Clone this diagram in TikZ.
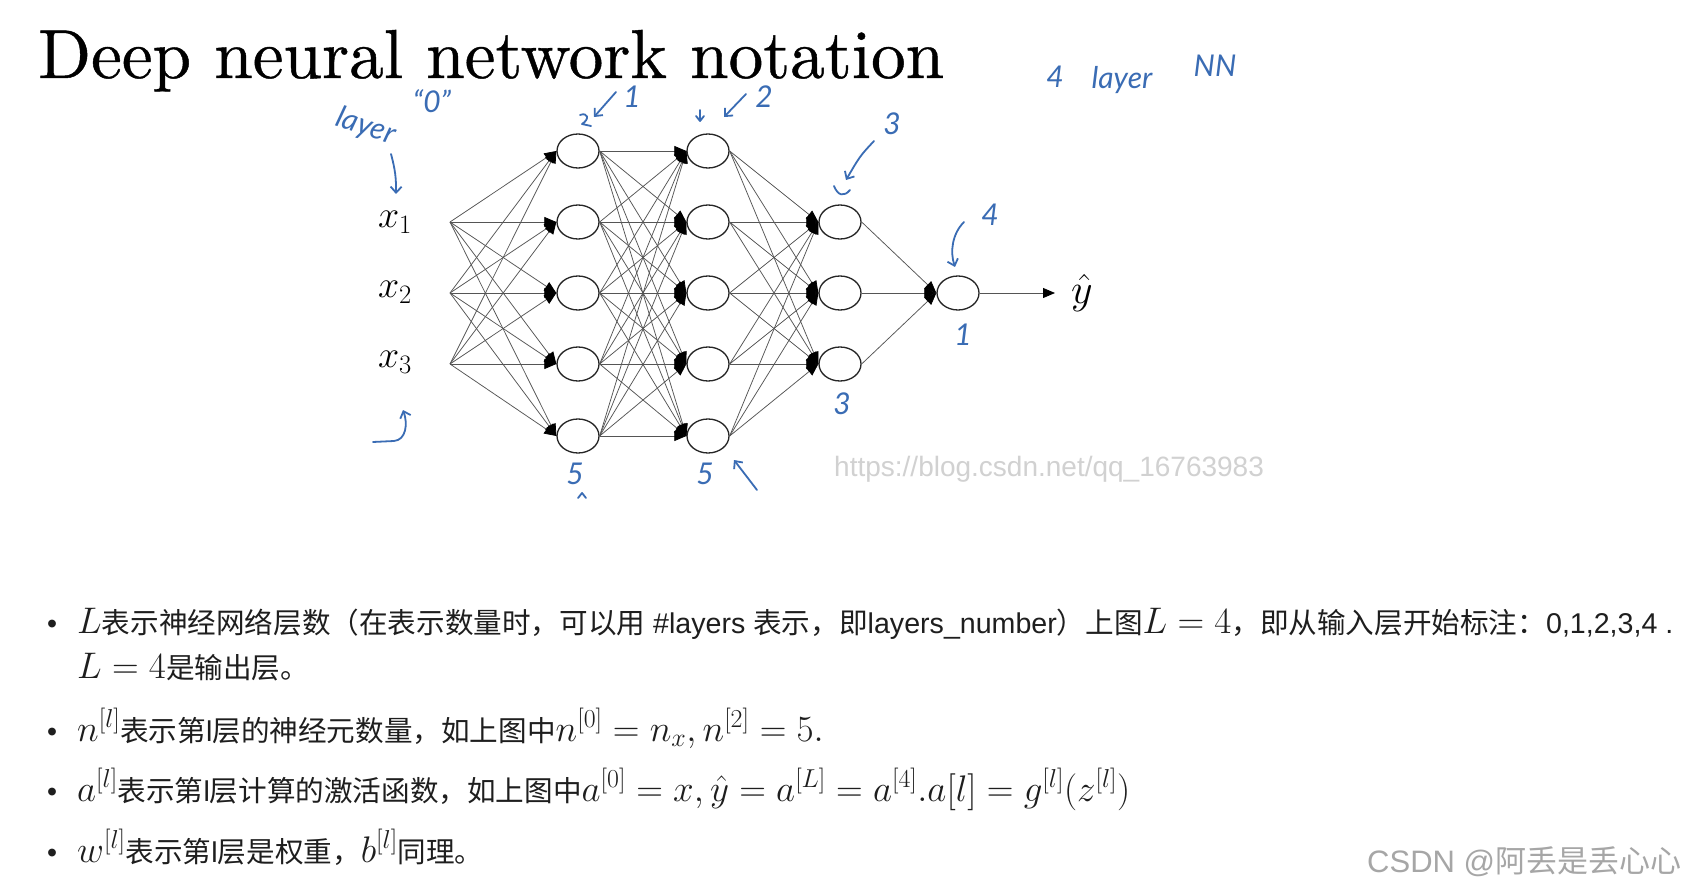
\RequirePackage{fix-cm}
\documentclass[tikz,border=0pt]{standalone}
\usepackage{fontspec}
\usepackage{graphicx}
\usetikzlibrary{shapes.geometric,arrows.meta}
\newfontfamily\cjk{Noto Sans CJK SC}
\newfontfamily\lat{Liberation Sans}
\newfontfamily\hand{Lato}
\newfontfamily\ttl{lmroman10-regular.otf}[FakeBold=0.6]
\definecolor{handblue}{RGB}{58,108,180}
\definecolor{edgegray}{RGB}{85,85,85}
\definecolor{txt}{RGB}{30,30,30}
\newcommand\zh[1]{{\cjk #1}}
\newcommand\mth[1]{{\fontsize{37}{37}\selectfont$#1$}}
\tikzset{
  neuron/.style={ellipse, draw=black!85, line width=1.3pt, minimum width=42pt, minimum height=34pt, inner sep=0pt, fill=white},
  conn/.style={draw=edgegray, line width=0.75pt, -{Triangle[length=12pt,width=10pt,color=black,fill=black]}},
  hw/.style={text=handblue, font=\hand\itshape\fontsize{30}{30}\selectfont, inner sep=0pt},
  harrow/.style={draw=handblue, line width=1.8pt, line cap=round, line join=round, -{Straight Barb[length=6pt,width=11pt]}},
  hstroke/.style={draw=handblue, line width=1.8pt, line cap=round, line join=round},
  body/.style={anchor=base west, inner sep=0pt, text=txt, font=\lat\fontsize{28.6}{30}\selectfont},
  xlab/.style={inner sep=0pt, font=\fontsize{38}{38}\selectfont}
}
\begin{document}
\begin{tikzpicture}[x=1pt,y=-1pt]
\useasboundingbox[fill=white] (0,0) rectangle (1688,890);

% title
\node[anchor=base west, inner sep=0pt] (title) at (38,78) {\resizebox{906pt}{!}{\raisebox{0pt}[\height][0pt]{\ttl\fontsize{68}{70}\selectfont Deep neural network notation}}};

% neurons
\foreach \i/\y in {1/151,2/222,3/293,4/364,5/436} {
  \node[neuron] (a\i) at (578,\y) {};
  \node[neuron] (b\i) at (708,\y) {};
}
\foreach \i/\y in {1/222,2/293,3/364} {
  \node[neuron] (c\i) at (840,\y) {};
  \coordinate (in\i) at (450,\y);
}
\node[neuron] (d1) at (958,293) {};
\coordinate (yend) at (1055,293);

% edges
\foreach \i in {1,2,3} \foreach \j in {1,...,5} \draw[conn] (in\i) -- (a\j.west);
\foreach \i in {1,...,5} \foreach \j in {1,...,5} \draw[conn] (a\i.east) -- (b\j.west);
\foreach \i in {1,...,5} \foreach \j in {1,2,3} \draw[conn] (b\i.east) -- (c\j.west);
\foreach \i in {1,2,3} \draw[conn] (c\i.east) -- (d1.west);
\draw[conn] (d1.east) -- (yend);

% labels
\node[xlab] (x1) at (395,222) {$x_1$};
\node[xlab] (x2) at (395,292) {$x_2$};
\node[xlab] (x3) at (395,362) {$x_3$};
\node[xlab, anchor=west, font=\fontsize{42}{42}\selectfont] (yhat) at (1071,293) {$\hat{y}$};

% handwriting
\node[hw, rotate=-18] (lay0) at (366,127) {layer};
\node[hw] (q0) at (432,101) {“0”};
\coordinate (a0s) at (391,154); \coordinate (a0e) at (396,194);
\draw[harrow] (a0s) to[bend left=8] (a0e);

\node[hw] (l1) at (632,97) {1};
\coordinate (p1s) at (616,92); \coordinate (p1e) at (594,117);
\draw[harrow] (p1s) -- (p1e);
\draw[hstroke] (580,115) .. controls (588,112) and (590,119) .. (582,124) -- (591,126);

\node[hw] (l2) at (764,97) {2};
\coordinate (p2s) at (746,94); \coordinate (p2e) at (724,117);
\draw[harrow] (p2s) -- (p2e);
\draw[hstroke] (700,110) -- (700,120);
\draw[hstroke] (696,116) -- (700,121) -- (704,116);

\node[hw] (l3) at (892,124) {3};
\coordinate (p3s) at (874,141); \coordinate (p3e) at (846,180);
\draw[harrow] (p3s) .. controls (860,156) .. (p3e);
\draw[hstroke] (834,186) .. controls (838,196) and (844,197) .. (850,190);

\node[hw] (l4) at (990,215) {4};
\coordinate (p4s) at (964,222); \coordinate (p4e) at (955,267);
\draw[harrow] (p4s) .. controls (952,234) and (950,252) .. (p4e);
\node[hw] (n4) at (963,335) {1};

\node[hw] (n3) at (842,404) {3};
\node[hw] (n1) at (575,474) {5};
\draw[hstroke] (578,498) -- (582,493) -- (586,498);
\node[hw] (n2) at (705,474) {5};
\coordinate (p5s) at (757,490); \coordinate (p5e) at (734,460);
\draw[harrow] (p5s) -- (p5e);
\coordinate (hk1) at (373,442); \coordinate (hk2) at (403,410);
\draw[harrow] (hk1) -- (394,441) .. controls (406,440) and (408,424) .. (hk2);

\node[hw] (h4) at (1055,77) {4};
\node[hw] (hl) at (1122,80) {layer};
\node[hw] (hnn) at (1215,66) {NN};

% watermark url
\node[anchor=base west, inner sep=0pt, text=black!18, font=\lat\fontsize{28}{28}\selectfont] (url) at (834,476) {https://blog.csdn.net/qq\_16763983};

% bullets
\foreach \n/\y in {1/633,2/741,3/801,4/862}
  \node[body] (bul\n) at (47,\y) {\textbullet};
\node[body] (t1) at (77,633) {\mth{L}\zh{表示神经网络层数（在表示数量时，可以用} \#layers \zh{表示，即}layers\_number\zh{）上图}\mth{L=4}\zh{，即从输入层开始标注：}0,1,2,3,4 .};
\node[body] (t2) at (77,678) {\mth{L=4}\zh{是输出层。}};
\node[body] (t3) at (77,741) {\mth{n^{[l]}}\zh{表示第}l\zh{层的神经元数量，如上图中}\mth{n^{[0]}=n_x, n^{[2]}=5.}};
\node[body] (t4) at (77,801) {\mth{a^{[l]}}\zh{表示第}l\zh{层计算的激活函数，如上图中}\mth{a^{[0]}=x,\hat{y}=a^{[L]}=a^{[4]}.a[l]=g^{[l]}(z^{[l]})}};
\node[body] (t5) at (77,862) {\mth{w^{[l]}}\zh{表示第}l\zh{层是权重，}\mth{b^{[l]}}\zh{同理。}};

% csdn watermark
\node[anchor=base west, inner sep=0pt, text=black!35, font=\lat\fontsize{31}{31}\selectfont] (csdn) at (1367,872) {CSDN @\zh{阿丢是丢心心}};
\end{tikzpicture}
\end{document}
